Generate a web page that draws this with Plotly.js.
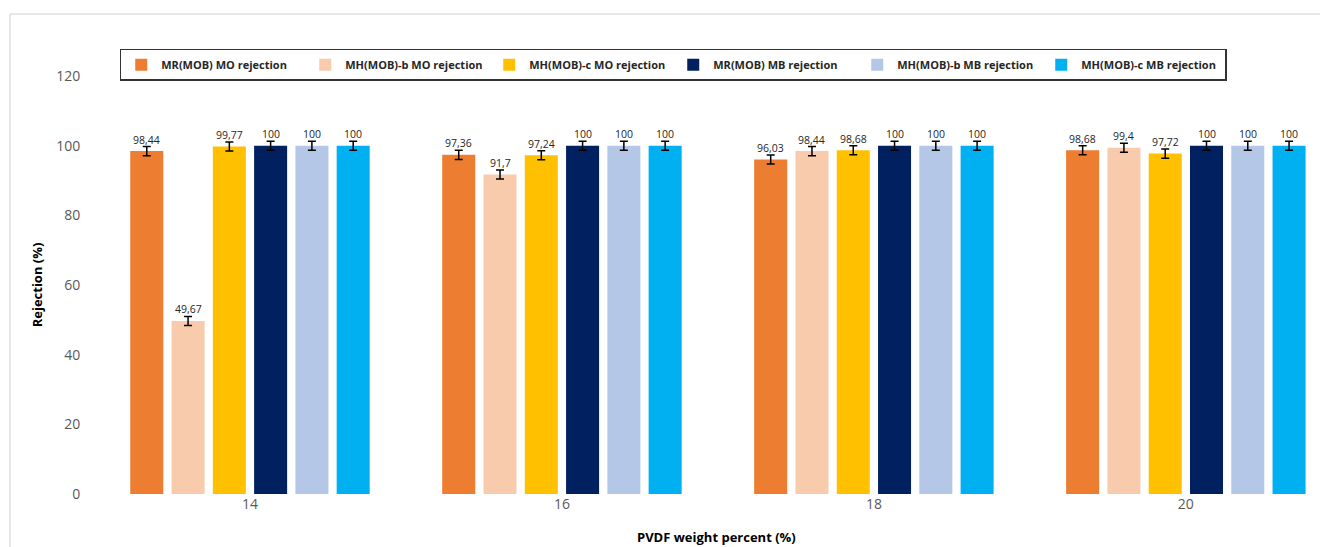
<!DOCTYPE html>
<html>
<head>
<meta charset="utf-8">
<script src="https://cdn.plot.ly/plotly-3.0.1.min.js"></script>
<style>
  html, body { margin: 0; padding: 0; background: #ffffff; }
  #chart { width: 1320px; height: 547px; }
</style>
</head>
<body>
<div id="chart"></div>
<script>
// ---- Data ----
const categories = ['14', '16', '18', '20'];
const seriesNames = [
  'MR(MOB) MO rejection',
  'MH(MOB)-b MO rejection',
  'MH(MOB)-c MO rejection',
  'MR(MOB) MB rejection',
  'MH(MOB)-b MB rejection',
  'MH(MOB)-c MB rejection'
];
const mrMO  = [98.44, 97.36, 96.03, 98.68];
const mhbMO = [49.67, 91.7, 98.44, 99.4];
const mhcMO = [99.77, 97.24, 98.68, 97.72];
const mrMB  = [100, 100, 100, 100];
const mhbMB = [100, 100, 100, 100];
const mhcMB = [100, 100, 100, 100];
const errMrMO  = [1.3, 1.3, 1.3, 1.3];
const errMhbMO = [1.3, 1.3, 1.3, 1.3];
const errMhcMO = [1.3, 1.3, 1.3, 1.3];
const errMrMB  = [1.3, 1.3, 1.3, 1.3];
const errMhbMB = [1.3, 1.3, 1.3, 1.3];
const errMhcMB = [1.3, 1.3, 1.3, 1.3];
const yTicks = [0, 20, 40, 60, 80, 100, 120];

// ---- Styles ----
const colors = ['#ED7D31', '#F8CBAD', '#FFC000', '#002060', '#B4C7E7', '#00B0F0'];
const seriesValues = [mrMO, mhbMO, mhcMO, mrMB, mhbMB, mhcMB];
const seriesErrors = [errMrMO, errMhbMO, errMhcMO, errMrMB, errMhbMB, errMhcMB];
const FONT = "'Open Sans', 'DejaVu Sans', sans-serif";
const bargap = 0.206;
const nSeries = seriesValues.length;
const slot = (1 - bargap) / nSeries;

const traces = seriesValues.map((vals, i) => ({
  type: 'bar',
  name: seriesNames[i],
  x: categories,
  y: vals,
  marker: { color: colors[i] },
  error_y: {
    type: 'data', array: seriesErrors[i], visible: true,
    color: '#000000', thickness: 1.5, width: 4
  },
  hoverinfo: 'x+y+name'
}));

const fmt = v => String(v).replace('.', ',');
const annotations = [];
seriesValues.forEach((vals, si) => {
  vals.forEach((v, ci) => {
    annotations.push({
      x: ci + (si - (nSeries - 1) / 2) * slot,
      y: v + seriesErrors[si][ci],
      xref: 'x', yref: 'y',
      text: fmt(v),
      showarrow: false,
      yanchor: 'bottom',
      yshift: -2,
      font: { family: FONT, size: 10.5, color: '#262626' }
    });
  });
});
annotations.push({
  xref: 'paper', yref: 'paper',
  x: 0.508, y: -0.103,
  xanchor: 'center', yanchor: 'middle',
  text: '<b>PVDF weight percent (%)</b>',
  showarrow: false,
  font: { family: FONT, size: 13, color: '#000000' }
});

const layout = {
  width: 1320,
  height: 547,
  margin: { l: 94, r: 0, t: 76, b: 53 },
  paper_bgcolor: 'rgba(0,0,0,0)',
  plot_bgcolor: 'rgba(0,0,0,0)',
  barmode: 'group',
  bargap: bargap,
  bargroupgap: 0.2,
  showlegend: true,
  legend: {
    orientation: 'h',
    x: 0.021, xanchor: 'left',
    y: 1.065, yanchor: 'top',
    bgcolor: '#ffffff',
    bordercolor: '#333333',
    borderwidth: 1.5,
    entrywidth: 139,
    entrywidthmode: 'pixels',
    font: { family: FONT, size: 11, color: '#262626', weight: 'bold' },
    traceorder: 'normal'
  },
  xaxis: {
    type: 'category',
    range: [-0.5, 3.43],
    showgrid: false,
    zeroline: false,
    showline: false,
    ticks: '',
    tickfont: { family: FONT, size: 14, color: '#595959' },
    fixedrange: true
  },
  yaxis: {
    range: [0, 120],
    tickvals: yTicks,
    ticktext: yTicks.map(String),
    showgrid: false,
    zeroline: false,
    showline: false,
    ticks: 'outside',
    ticklen: 10,
    tickcolor: 'rgba(0,0,0,0)',
    tickfont: { family: FONT, size: 14, color: '#595959' },
    title: {
      text: '<b>Rejection (%)</b>',
      font: { family: FONT, size: 13, color: '#000000' },
      standoff: 10
    },
    fixedrange: true
  },
  shapes: [{
    type: 'rect', xref: 'paper', yref: 'paper',
    x0: -0.0685, x1: 1.2, y0: -0.4, y1: 1.1483,
    line: { color: '#d0d0d0', width: 1 },
    fillcolor: 'rgba(0,0,0,0)',
    layer: 'below'
  }],
  annotations: annotations
};

Plotly.newPlot('chart', traces, layout, { displayModeBar: false, staticPlot: false });
</script>
</body>
</html>
